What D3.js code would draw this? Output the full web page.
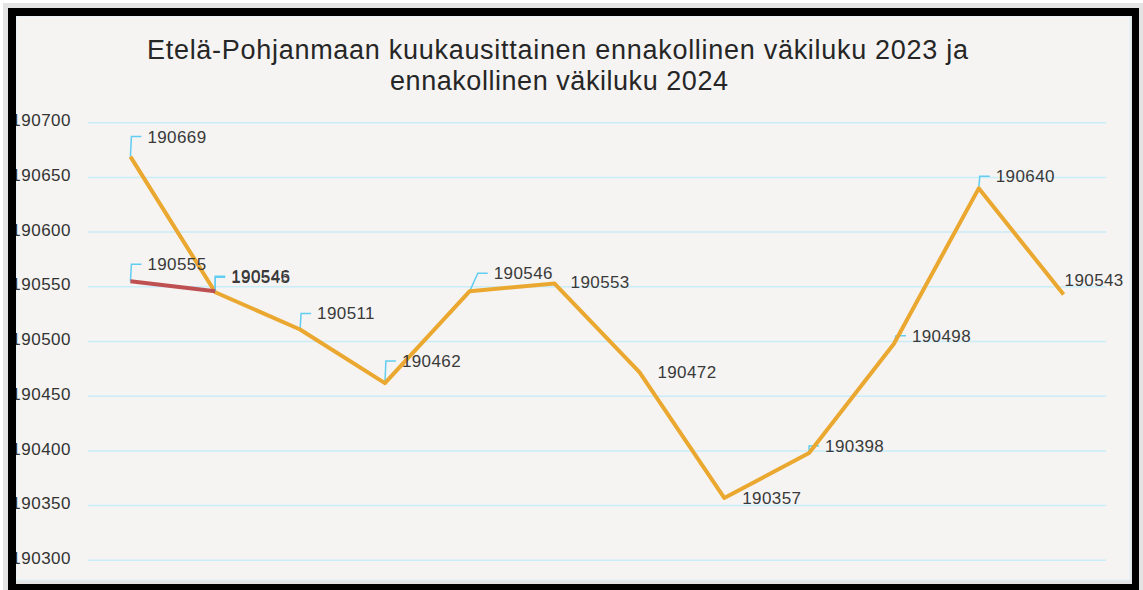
<!DOCTYPE html>
<html>
<head>
<meta charset="utf-8">
<script src="https://cdn.jsdelivr.net/npm/d3@7"></script>
<style>
  html, body { margin: 0; padding: 0; background: #ffffff; }
  svg { display: block; font-family: "Liberation Sans", Arial, sans-serif; }
</style>
</head>
<body>
<svg id="chart" width="1143" height="590"></svg>
<script>
const months = ["tammi", "helmi", "maalis", "huhti", "touko", "kesä", "heinä", "elo", "syys", "loka", "marras", "joulu"];
const values2023 = [190669, 190545, 190511, 190462, 190546, 190553, 190472, 190357, 190398, 190498, 190640, 190543];
const values2024 = [190555, 190546];
const yTicks = [190300, 190350, 190400, 190450, 190500, 190550, 190600, 190650, 190700];
const titleLines = ["Etelä-Pohjanmaan kuukausittainen ennakollinen väkiluku 2023 ja", "ennakollinen väkiluku 2024"];

// label placement (text start / middle relative to the point), leader drawn when lifted
const labelOffsets2023 = [[17, -20], [16, -15], [17, -16], [17, -22], [24, -18], [16, -1], [18, 0], [18, 0], [16, -7], [18, -8], [17, -12], [1, -14]];
const labelOffsets2024 = [[17, -17], [16, -15]];
const leaders2023 = [true, true, true, true, true, false, false, false, true, true, true, false];
const leaders2024 = [true, true];

const svg = d3.select("#chart");

// page shadow + frame
svg.append("rect").attr("x", 3).attr("y", 3).attr("width", 1140).attr("height", 587).attr("fill", "#d0d0d0").attr("opacity", 0.6);
svg.append("rect").attr("x", 16).attr("y", 16).attr("width", 1116).attr("height", 568).attr("fill", "#e4e4e4");
svg.append("rect").attr("x", 16).attr("y", 16).attr("width", 1114).attr("height", 564).attr("fill", "#f5f4f2")
  .attr("stroke", "#dff3fb").attr("stroke-width", 1);

const x = d3.scalePoint().domain(months).range([88, 1106]).padding(0.5);
const y = d3.scaleLinear().domain([190300, 190700]).range([560.3, 122.7]);

const plot = svg.append("g");

// gridlines
plot.selectAll("line.grid")
  .data(yTicks)
  .join("line")
  .attr("class", "grid")
  .attr("x1", 88)
  .attr("x2", 1106)
  .attr("y1", (d) => y(d))
  .attr("y2", (d) => y(d))
  .attr("stroke", "#c9ecf9")
  .attr("stroke-width", 1.5);

// y axis labels
const yAxis = d3.axisLeft(y).tickValues(yTicks).tickFormat(d3.format("d")).tickSize(0).tickPadding(0);
const yg = plot.append("g").attr("transform", "translate(71,0)").call(yAxis);
yg.select(".domain").remove();
yg.selectAll("text")
  .attr("font-family", "'Liberation Sans', Arial, sans-serif")
  .attr("font-size", 17)
  .attr("letter-spacing", 0.5)
  .attr("fill", "#333333")
  .attr("dy", "0.3em")
  .attr("y", -2);

// title
svg.append("text")
  .attr("text-anchor", "middle")
  .attr("font-size", 27)
  .attr("fill", "#262626")
  .selectAll("tspan")
  .data(titleLines)
  .join("tspan")
  .attr("x", (d, i) => (i === 0 ? 557.5 : 559))
  .attr("y", (d, i) => 59 + i * 31)
  .attr("textLength", (d, i) => (i === 0 ? 821 : 338))
  .attr("lengthAdjust", "spacing")
  .text((d) => d);

const line = d3.line()
  .x((d, i) => x(months[i]))
  .y((d) => y(d));

function drawSeries(values, color, offsets, leaders) {
  const g = plot.append("g");

  // leader lines
  g.selectAll("path.leader")
    .data(values.map((v, i) => ({ v, i })).filter((d) => leaders[d.i]))
    .join("path")
    .attr("class", "leader")
    .attr("fill", "none")
    .attr("stroke", "#62cdf0")
    .attr("stroke-width", 1.5)
    .attr("d", (d) => {
      const px = x(months[d.i]), py = y(d.v);
      const tx = px + offsets[d.i][0], ty = py + offsets[d.i][1];
      return d3.line()([[px, py], [tx - 16, ty], [tx - 6, ty]]);
    });

  g.append("path")
    .datum(values)
    .attr("fill", "none")
    .attr("stroke", color)
    .attr("stroke-width", 4)
    .attr("stroke-linejoin", "round")
    .attr("d", line);

  g.selectAll("text.lbl")
    .data(values)
    .join("text")
    .attr("class", "lbl")
    .text((d) => d)
    .attr("x", (d, i) => x(months[i]) + offsets[i][0])
    .attr("y", (d, i) => y(d) + offsets[i][1])
    .attr("dy", "0.35em")
    .attr("font-size", 17)
    .attr("letter-spacing", 0.4)
    .attr("fill", "#3a3a3a");
}

drawSeries(values2023, "#eba830", labelOffsets2023, leaders2023);
drawSeries(values2024, "#bf5052", labelOffsets2024, leaders2024);

// black frame drawn on top so the axis labels tuck under it
svg.append("path")
  .attr("fill", "#000")
  .attr("fill-rule", "evenodd")
  .attr("d", "M8,8H1139V590H8Z M16,16V584H1132V16Z");
</script>
</body>
</html>
